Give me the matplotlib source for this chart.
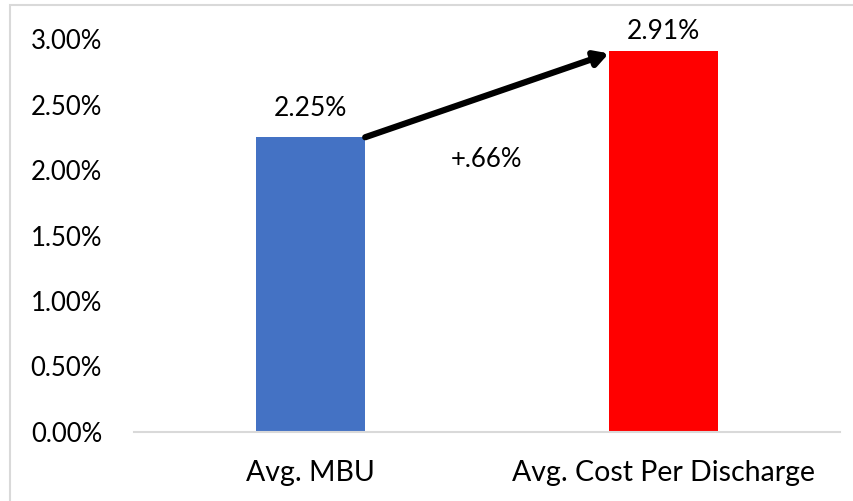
import matplotlib.pyplot as plt
from matplotlib.patches import Rectangle
from matplotlib.ticker import FuncFormatter

plt.rcParams['font.family'] = ['Lato', 'DejaVu Sans']

categories = ['Avg. MBU', 'Avg. Cost Per Discharge']
values = [2.25, 2.91]
colors = ['#4472C4', '#FF0000']
labels = ['2.25%', '2.91%']
diff_label = '+.66%'

fig = plt.figure(figsize=(8.54, 5.01), dpi=100)
ax = fig.add_axes([134 / 854, 1 - 432 / 501, 706 / 854, 393 / 501])

# chart frame (light grey border of the excel chart)
fig.patches.append(Rectangle((10 / 854, -0.1), 1.2, (1 - 5 / 501) + 0.1,
                             transform=fig.transFigure, fill=False,
                             edgecolor='#d9d9d9', lw=1.5))

x = list(range(len(categories)))
bars = ax.bar(x, values, width=0.309, color=colors, zorder=2)

# second label sits closer to its bar (top of plot area)
for xi, v, lab, off in zip(x, values, labels, [12, 5]):
    ax.annotate(lab, (xi, v), xytext=(0, off), textcoords='offset points',
                ha='center', va='bottom', fontsize=19)

# arrow from top of first bar to top of second
ax.annotate('', xy=(1 - 0.155, values[1] - 0.02), xytext=(0.155, values[0]),
            arrowprops=dict(arrowstyle='-|>,head_length=0.8,head_width=0.45',
                            color='black', lw=4.5, shrinkA=0, shrinkB=0))
ax.text(0.5, 2.08, diff_label, ha='center', va='center', fontsize=18.5)

ax.set_xlim(-0.5, 1.5)
ax.set_ylim(0, 3.0)
ax.set_yticks([0, 0.5, 1.0, 1.5, 2.0, 2.5, 3.0])
ax.yaxis.set_major_formatter(FuncFormatter(lambda v, p: f'{v:.2f}%'))
ax.set_xticks(x)
ax.set_xticklabels(categories)
ax.tick_params(axis='y', length=0, labelsize=18.5, pad=23)
ax.tick_params(axis='x', length=0, labelsize=20.5, pad=20)

for s in ['top', 'right', 'left']:
    ax.spines[s].set_visible(False)
ax.spines['bottom'].set_color('#d9d9d9')
ax.spines['bottom'].set_linewidth(1.5)

fig.savefig('out.png', dpi=100)
